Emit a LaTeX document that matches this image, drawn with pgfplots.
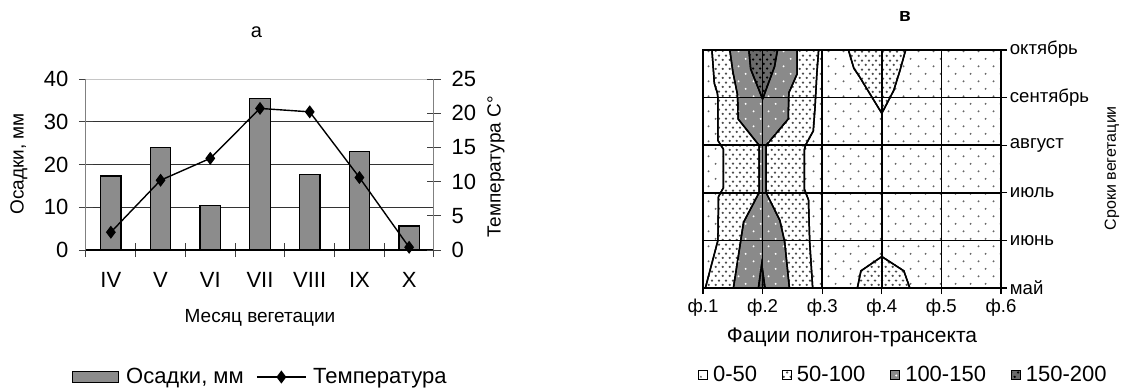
\documentclass[border=0pt]{standalone}
\usepackage{fontspec}
\setmainfont{Liberation Sans}
\usepackage{pgfplots}
\pgfplotsset{compat=1.18}
\usetikzlibrary{patterns}

\definecolor{barfill}{HTML}{8C8C8C}
\definecolor{darkfill}{HTML}{8A8A8A}
\definecolor{darkestfill}{HTML}{6A6A6A}

\pgfdeclarepatternformonly{sparsedots}{\pgfqpoint{0pt}{0pt}}{\pgfqpoint{7.5pt}{7.7pt}}{\pgfqpoint{7.5pt}{7.7pt}}{%
  \pgfpathcircle{\pgfqpoint{1.875pt}{1.925pt}}{0.55pt}%
  \pgfpathcircle{\pgfqpoint{5.625pt}{5.775pt}}{0.55pt}%
  \pgfusepath{fill}}
\pgfdeclarepatternformonly{densedots}{\pgfqpoint{0pt}{0pt}}{\pgfqpoint{3.4pt}{4.6pt}}{\pgfqpoint{3.4pt}{4.6pt}}{%
  \pgfpathcircle{\pgfqpoint{0.85pt}{1.15pt}}{0.65pt}%
  \pgfpathcircle{\pgfqpoint{2.55pt}{3.45pt}}{0.65pt}%
  \pgfusepath{fill}}

\tikzset{
  lvl0/.style={fill=white, postaction={pattern=sparsedots, pattern color=black!60}},
  lvl1/.style={fill=white, postaction={pattern=densedots, pattern color=black!70}},
  lvl2/.style={fill=darkfill, postaction={pattern=sparsedots, pattern color=white}},
  lvl3/.style={fill=darkestfill, postaction={pattern=densedots, pattern color=black}},
  contour/.style={draw=black, line width=0.75pt},
}
\pgfplotsset{
  boxleg/.style={legend image code/.code={\draw[black, line width=0.4pt, #1] (0pt,-2.25pt) rectangle (4.5pt,2.25pt);}},
  barleg/.style={legend image code/.code={\draw[fill=barfill, draw=black, line width=0.5pt] (0pt,-2.75pt) rectangle (23pt,2.75pt);}},
  lineleg/.style={legend image code/.code={\draw[##1, mark repeat=2, mark phase=2] plot coordinates {(0pt,0pt) (12.25pt,0pt) (24.5pt,0pt)};}},
}

\begin{document}
\begin{tikzpicture}
\useasboundingbox (0,0) rectangle (562.5pt,-193.5pt);

% ---------- left chart: precipitation bars ----------
\begin{axis}[
  at={(43pt,-125pt)}, anchor=south west,
  scale only axis, width=174pt, height=85.5pt,
  xmin=-0.5, xmax=6.5, ymin=0, ymax=40,
  axis x line*=bottom, axis y line*=left,
  x axis line style={-, black, line width=0.6pt},
  y axis line style={-, gray, line width=0.5pt},
  xtick={-0.5,0.5,...,6.5}, xticklabels={},
  extra x ticks={0,1,2,3,4,5,6},
  extra x tick labels={IV,V,VI,VII,VIII,IX,X},
  extra x tick style={tick style={draw=none}},
  ytick={0,10,20,30,40},
  tick align=center, major tick length=7pt,
  tick style={black!75, line width=0.5pt},
  ymajorgrids, major grid style={black!80, line width=0.5pt},
  tick label style={font=\fontsize{11}{13}\selectfont},
  /pgf/number format/assume math mode=true,
  yticklabel shift=1.8pt,
  xticklabel shift=4pt,
  ylabel={Осадки, мм},
  ylabel style={at={(axis description cs:-0.1925,0.503)}, anchor=center, font=\fontsize{9.5}{11}\selectfont},
  xlabel={Месяц вегетации},
  xlabel style={at={(axis description cs:0.5,-0.398)}, anchor=center, font=\fontsize{9.5}{11}\selectfont},
  title={а},
  title style={at={(axis description cs:0.49,1.275)}, anchor=center, yshift=-6pt, font=\fontsize{10}{12}\selectfont},
]
\addplot[ybar, bar width=0.41, fill=barfill, draw=black, line width=0.6pt]
  coordinates {(0,17.3) (1,23.9) (2,10.4) (3,35.5) (4,17.7) (5,23.1) (6,5.6)};
\draw[gray!45, line width=0.5pt] (axis cs:-0.5,40) -- (axis cs:6.5,40);
\end{axis}

% ---------- left chart: temperature line ----------
\begin{axis}[
  at={(43pt,-125pt)}, anchor=south west,
  scale only axis, width=174pt, height=85.5pt,
  xmin=-0.5, xmax=6.5, ymin=0, ymax=25,
  axis y line*=right, axis x line=none,
  y axis line style={-, gray, line width=0.5pt},
  ytick={0,5,...,25},
  tick align=center, major tick length=7pt,
  tick style={black!75, line width=0.5pt},
  tick label style={font=\fontsize{11}{13}\selectfont},
  /pgf/number format/assume math mode=true,
  yticklabel shift=1.8pt,
  ylabel={Температура С°},
  ylabel style={at={(axis description cs:1.178,0.485)}, anchor=center, font=\fontsize{9.5}{11}\selectfont},
  legend columns=2,
  legend style={at={(axis description cs:-0.04,-0.743)}, anchor=west, draw=none, fill=none, inner sep=0pt,
    nodes={inner sep=0.333em}, font=\fontsize{11}{13}\selectfont,
    /tikz/every even column/.append style={column sep=2.9pt}},
]
\addlegendimage{barleg}
\addlegendentry{Осадки, мм}
\addplot[black, line width=0.7pt, mark=diamond*, mark size=2.7pt, lineleg]
  coordinates {(0,2.6) (1,10.2) (2,13.4) (3,20.7) (4,20.2) (5,10.6) (6,0.4)};
\addlegendentry{Температура}
\end{axis}

% ---------- right chart: contour map ----------
\begin{axis}[
  at={(351.5pt,-144pt)}, anchor=south west,
  scale only axis, width=149pt, height=119pt,
  xmin=1, xmax=6, ymin=0, ymax=5,
  axis on top,
  xtick={1,...,6}, xticklabels={ф.1,ф.2,ф.3,ф.4,ф.5,ф.6},
  ytick={0,...,5}, yticklabels={май,июнь,июль,август,сентябрь,октябрь},
  xtick pos=bottom, ytick pos=right, yticklabel pos=right,
  tick align=outside, major tick length=3pt,
  grid=major, major grid style={black, line width=0.75pt},
  axis line style={black, line width=0.75pt},
  tick style={black, line width=0.6pt},
  xticklabel style={font=\fontsize{9.3}{11}\selectfont},
  yticklabel style={font=\fontsize{9.3}{11}\selectfont, anchor=west},
  xticklabel shift=-1pt, yticklabel shift=-2.1pt,
  xlabel={Фации полигон-трансекта},
  xlabel style={at={(axis description cs:0.5,-0.206)}, anchor=center, font=\fontsize{10.5}{12}\selectfont},
  ylabel={Сроки вегетации},
  ylabel style={at={(axis description cs:1.372,0.504)}, anchor=center, font=\fontsize{8}{10}\selectfont},
  title={в},
  title style={at={(axis description cs:0.678,1.139)}, anchor=center, yshift=-6pt, font=\bfseries\fontsize{9.5}{11}\selectfont},
  legend columns=4,
  legend style={at={(axis description cs:-0.017,-0.366)}, anchor=west, draw=none, fill=none, inner sep=0pt,
    nodes={inner sep=2.5pt}, font=\fontsize{11}{13}\selectfont,
    /tikz/every even column/.append style={column sep=10pt}},
]
% background 0-50
\addplot[forget plot, contour, lvl0] coordinates {(1,0) (6,0) (6,5) (1,5)} -- cycle;
% left 50-100 band
\addplot[forget plot, contour, lvl1] coordinates {
  (1.15,5) (1.19,4.3) (1.24,4.1) (1.25,4.0) (1.25,3.1) (1.34,2.92) (1.34,2.1) (1.26,1.92) (1.25,1.0) (1.04,0)
  (2.84,0) (2.79,0.97) (2.77,1.85) (2.70,2.08) (2.70,2.9) (2.72,3.0) (2.85,3.3) (2.88,3.8) (2.91,4.5) (2.94,5)} -- cycle;
% 100-150 band
\addplot[forget plot, contour, lvl2] coordinates {
  (1.45,5) (1.50,4.55) (1.58,4.05) (1.59,3.55) (1.94,3.0) (1.94,2.0) (1.68,1.38) (1.63,0.97) (1.51,0)
  (2.45,0) (2.37,0.97) (2.29,1.42) (2.06,2.0) (2.06,3.0) (2.43,3.55) (2.44,4.1) (2.58,4.5) (2.58,5)} -- cycle;
% 150-200 top
\addplot[forget plot, contour, lvl3] coordinates {(1.77,5) (1.80,4.6) (2.0,3.97) (2.2,4.65) (2.25,5)} -- cycle;
% 150-200 bottom spike
\addplot[forget plot, contour, lvl3] coordinates {(1.93,0) (1.985,0.5) (2.04,0)} -- cycle;
% right 50-100 top V
\addplot[forget plot, contour, lvl1] coordinates {(3.44,5) (3.53,4.62) (3.62,4.45) (4.0,3.67) (4.2,4.15) (4.3,4.55) (4.4,5)} -- cycle;
% right 50-100 bottom hump
\addplot[forget plot, contour, lvl1] coordinates {(3.59,0) (3.65,0.36) (4.0,0.66) (4.37,0.36) (4.47,0)} -- cycle;

\addlegendimage{boxleg={lvl0}}
\addlegendentry{0-50}
\addlegendimage{boxleg={lvl1}}
\addlegendentry{50-100}
\addlegendimage{boxleg={lvl2}}
\addlegendentry{100-150}
\addlegendimage{boxleg={lvl3}}
\addlegendentry{150-200}
\end{axis}
\end{tikzpicture}
\end{document}
